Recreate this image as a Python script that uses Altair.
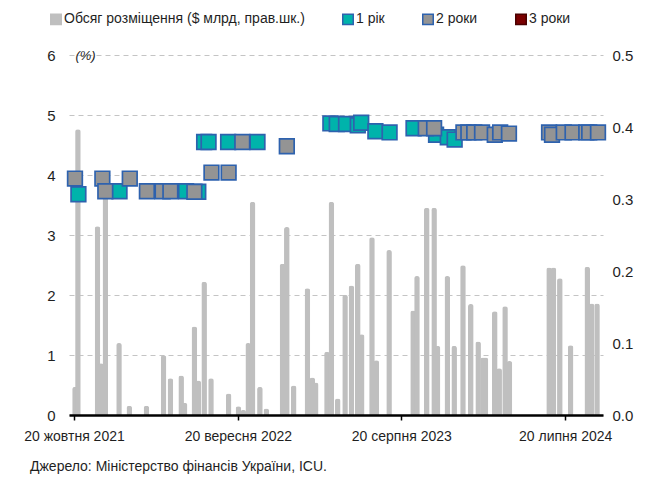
import altair as alt
import pandas as pd

# ---------------- data ----------------
bar_dates = [
    "2021-10-22", "2021-10-28", "2021-12-07", "2021-12-14", "2021-12-23", "2022-01-20",
    "2022-02-10", "2022-03-17", "2022-04-21", "2022-05-05", "2022-05-27", "2022-06-03",
    "2022-06-23", "2022-07-01", "2022-07-13", "2022-07-27", "2022-09-01", "2022-09-21",
    "2022-10-01", "2022-10-11", "2022-10-20", "2022-11-04", "2022-11-17", "2022-12-20",
    "2022-12-29", "2023-01-12", "2023-02-09", "2023-02-19", "2023-02-26", "2023-03-21",
    "2023-03-30", "2023-04-12", "2023-04-27", "2023-05-10", "2023-05-23", "2023-05-31",
    "2023-06-21", "2023-06-30", "2023-07-26", "2023-09-13", "2023-09-21", "2023-10-11",
    "2023-10-26", "2023-11-02", "2023-11-22", "2023-12-06", "2023-12-24", "2024-01-09",
    "2024-01-24", "2024-02-03", "2024-02-08", "2024-02-27", "2024-03-07", "2024-03-19",
    "2024-03-28", "2024-06-17", "2024-06-26", "2024-07-09", "2024-07-31", "2024-09-03",
    "2024-09-12", "2024-09-23",
]
bar_values = [
    0.039, 0.397, 0.262, 0.072, 0.306, 0.100,
    0.013, 0.013, 0.083, 0.051, 0.055, 0.017,
    0.123, 0.048, 0.185, 0.051, 0.030, 0.012,
    0.007, 0.100, 0.296, 0.039, 0.009, 0.210,
    0.261, 0.041, 0.176, 0.052, 0.045, 0.088,
    0.296, 0.023, 0.167, 0.180, 0.210, 0.112,
    0.247, 0.076, 0.229, 0.145, 0.193, 0.288,
    0.288, 0.096, 0.193, 0.096, 0.208, 0.154,
    0.102, 0.080, 0.080, 0.144, 0.065, 0.151,
    0.075, 0.205, 0.205, 0.190, 0.097, 0.206,
    0.155, 0.155,
]

y1_dates = [
    "2021-10-29", "2022-01-21", "2022-06-06", "2022-07-01", "2022-07-13", "2022-07-22",
    "2022-08-31", "2022-10-30", "2023-03-28", "2023-04-10", "2023-04-29", "2023-05-23",
    "2023-05-30", "2023-06-28", "2023-07-27", "2023-09-14", "2023-10-30", "2023-11-23",
    "2023-12-07",
]
y1_values = [
    3.68, 3.73, 3.73, 3.72, 4.55, 4.55,
    4.55, 4.55, 4.86, 4.85, 4.85, 4.83,
    4.87, 4.73, 4.71, 4.78, 4.67, 4.63,
    4.59,
]

y2_dates = [
    "2021-10-22", "2021-12-17", "2021-12-23", "2022-02-11", "2022-03-18", "2022-04-19",
    "2022-05-05", "2022-06-23", "2022-07-28", "2022-09-01", "2022-09-29", "2022-12-29",
    "2023-10-09", "2023-10-26", "2023-12-25", "2024-01-04", "2024-01-16", "2024-02-01",
    "2024-02-27", "2024-03-09", "2024-03-27", "2024-06-17", "2024-06-23", "2024-07-17",
    "2024-08-04", "2024-09-01", "2024-09-07", "2024-09-25",
]
y2_values = [
    3.94, 3.94, 3.73, 3.94, 3.73, 3.73,
    3.73, 3.72, 4.04, 4.04, 4.55, 4.48,
    4.78, 4.78, 4.71, 4.71, 4.71, 4.71,
    4.67, 4.71, 4.69, 4.71, 4.67, 4.71,
    4.71, 4.71, 4.71, 4.71,
]

series_names = ["Обсяг розміщення ($ млрд, прав.шк.)", "1 рік", "2 роки", "3 роки"]
series_fill = ["#BFBFBF", "#00B3AB", "#949494", "#7A0000"]
series_stroke = ["#BFBFBF", "#2E62AE", "#2E62AE", "#4A0000"]

tick_dates = [(2021, 10, 20), (2022, 9, 20), (2023, 8, 20), (2024, 7, 20)]
month_names = ["січня", "лютого", "березня", "квітня", "травня", "червня",
               "липня", "серпня", "вересня", "жовтня", "листопада", "грудня"]
x_start = (2021, 10, 20)
x_end = (2024, 9, 25)
left_ticks = [0, 1, 2, 3, 4, 5, 6]
right_ticks = [0.0, 0.1, 0.2, 0.3, 0.4, 0.5]
source_text = "Джерело: Міністерство фінансів України, ICU."

# ---------------- tables ----------------
bars_df = pd.DataFrame({"date": bar_dates, "vol": bar_values, "series": series_names[0]})
pts_df = pd.concat([
    pd.DataFrame({"date": y1_dates, "rate": y1_values, "series": series_names[1]}),
    pd.DataFrame({"date": y2_dates, "rate": y2_values, "series": series_names[2]}),
], ignore_index=True)
pts_df["order"] = range(len(pts_df))
src_df = pd.DataFrame({"t": [source_text]})

FONT = "Liberation Sans, Arial, sans-serif"
TXT = "#1F1F1F"


def dt(t):
    return alt.DateTime(year=t[0], month=t[1], date=t[2], utc=True)


months_js = "[" + ",".join("'" + m + "'" for m in month_names) + "]"
label_expr = ("utcdate(datum.value) + ' ' + " + months_js +
              "[utcmonth(datum.value)] + ' ' + utcyear(datum.value)")

x_enc = alt.X(
    "date:T",
    scale=alt.Scale(type="utc", domain=[dt(x_start), dt(x_end)]),
    axis=alt.Axis(
        values=[dt(t) for t in tick_dates], labelExpr=label_expr, title=None,
        grid=False, domainColor="black", domainWidth=2.5, tickColor="black",
        tickWidth=1.5, tickSize=5, labelFontSize=14, labelFont=FONT, labelColor=TXT,
        labelPadding=9, labelFlush=False, labelOverlap=False, zindex=2,
    ),
)

fill_scale = alt.Scale(domain=series_names, range=series_fill)
stroke_scale = alt.Scale(domain=series_names, range=series_stroke)

bars = alt.Chart(bars_df).mark_bar(
    size=5.6, cornerRadiusTopLeft=2.5, cornerRadiusTopRight=2.5
).encode(
    x=x_enc,
    y=alt.Y("vol:Q", scale=alt.Scale(domain=[0, 0.5]),
            axis=alt.Axis(orient="right", values=right_ticks, format=".1f", grid=False,
                          domain=False, ticks=False, labelPadding=9, title=None,
                          labelFontSize=15, labelFont=FONT, labelColor=TXT)),
    fill=alt.Fill("series:N", scale=fill_scale, legend=alt.Legend(title=None)),
)

points = alt.Chart(pts_df).mark_square(size=215, strokeWidth=1.7, opacity=1).encode(
    x=alt.X("date:T"),
    y=alt.Y("rate:Q", scale=alt.Scale(domain=[0, 6]),
            axis=alt.Axis(orient="left", values=left_ticks, grid=True, gridDash=[5, 4],
                          gridColor="#C4C4C4", gridWidth=1, domain=False, ticks=False,
                          labelPadding=14, labelFontSize=15, labelFont=FONT, labelColor=TXT,
                          title="(%)", titleAngle=0, titleFontStyle="italic",
                          titleFontWeight="normal", titleFontSize=13, titleFont=FONT,
                          titleColor=TXT, titleX=16, titleY=0, titleAlign="center",
                          titleBaseline="middle")),
    fill=alt.Fill("series:N", scale=fill_scale, legend=alt.Legend(title=None)),
    stroke=alt.Stroke("series:N", scale=stroke_scale, legend=alt.Legend(title=None)),
    order=alt.Order("order:Q"),
)

source = alt.Chart(src_df).mark_text(
    align="left", baseline="middle", fontSize=14, font=FONT, color=TXT
).encode(text="t:N", x=alt.value(-39), y=alt.value(412))

chart = alt.layer(bars, points, source).resolve_scale(y="independent").properties(
    width=534, height=360,
    autosize=alt.AutoSizeParams(type="none"),
    padding={"left": 61, "top": 47, "right": 43, "bottom": 59},
).configure_view(stroke=None).configure_legend(
    orient="none", legendX=-20, legendY=-43, direction="horizontal",
    symbolType="square", symbolSize=110, symbolStrokeWidth=1.5,
    labelFontSize=14, labelFont=FONT, labelColor=TXT, labelOffset=1, labelLimit=400,
    columnPadding=34, padding=0,
)

chart.save("out.html", embed_options={"renderer": "svg", "actions": False})
